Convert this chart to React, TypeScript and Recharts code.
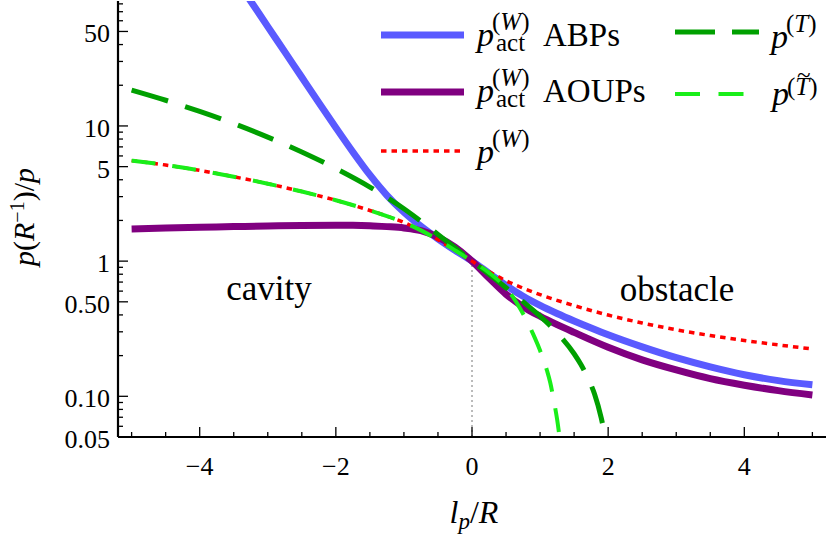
import React from 'react';
import { LineChart, Line, XAxis, YAxis, ReferenceLine, Customized } from 'recharts';

const FONT = 'Liberation Serif, DejaVu Serif, Times New Roman, serif';
const serif = { fontFamily: FONT };
const serifItalic = { fontFamily: FONT, fontStyle: 'italic' as const };

// p_act^(W), active Brownian particles
const abpX = [-3.5, -3.25, -3.0, -2.75, -2.5, -2.25, -2.0, -1.75, -1.5, -1.25, -1.0, -0.75, -0.5, -0.25, 0, 0.25, 0.5, 0.75, 1.0, 1.25, 1.5, 1.75, 2.0, 2.5, 3.0, 3.5, 4.0, 4.5, 5.0];
const abpY = [128.8, 83.7, 54.3, 35.3, 22.9, 14.88, 9.72, 6.42, 4.34, 3.07, 2.305, 1.809, 1.462, 1.202, 1.0, 0.813, 0.661, 0.5495, 0.4705, 0.41, 0.361, 0.32, 0.285, 0.232, 0.193, 0.165, 0.1445, 0.1306, 0.1216];

// p_act^(W), active Ornstein-Uhlenbeck particles
const aoupX = [-5, -4.5, -4, -3.5, -3, -2.5, -2, -1.75, -1.5, -1.25, -1, -0.75, -0.5, -0.25, 0, 0.25, 0.5, 0.75, 1, 1.25, 1.5, 2, 2.5, 3, 3.5, 4, 4.5, 5];
const aoupY = [1.73, 1.76, 1.78, 1.8, 1.82, 1.835, 1.84, 1.84, 1.83, 1.8, 1.76, 1.68, 1.505, 1.267, 1.0, 0.75, 0.569, 0.46, 0.391, 0.339, 0.297, 0.2305, 0.186, 0.1567, 0.135, 0.1208, 0.1102, 0.1023];

// p^(W)
const wX = [-5, -4.5, -4, -3.5, -3, -2.5, -2, -1.5, -1, -0.75, -0.5, -0.25, 0, 0.25, 0.5, 0.75, 1, 1.25, 1.5, 2, 2.5, 3, 3.5, 4, 4.5, 5];
const wY = [5.54, 5.14, 4.69, 4.21, 3.74, 3.27, 2.82, 2.37, 1.93, 1.689, 1.437, 1.202, 1.0, 0.8367, 0.716, 0.631, 0.5655, 0.513, 0.469, 0.399, 0.3485, 0.3107, 0.2817, 0.2589, 0.24, 0.224];

// p^(T)
const tX = [-5, -4.5, -4, -3.5, -3, -2.5, -2, -1.5, -1, -0.75, -0.5, -0.25, 0, 0.25, 0.5, 0.75, 1.0, 1.25, 1.5, 1.6, 1.7, 1.8, 1.9, 2.0];
const tY = [18.41, 15.49, 12.81, 10.41, 8.27, 6.42, 4.84, 3.53, 2.44, 1.972, 1.576, 1.256, 1.0, 0.799, 0.635, 0.501, 0.3914, 0.2951, 0.2065, 0.1718, 0.1371, 0.104, 0.0687, 0.0378];

// p^(T~)
const ttX = [-5, -4.5, -4, -3.5, -3, -2.5, -2, -1.5, -1, -0.75, -0.5, -0.25, 0, 0.25, 0.5, 0.6, 0.7, 0.8, 0.9, 1.0, 1.1, 1.15, 1.2, 1.25, 1.3];
const ttY = [5.54, 5.14, 4.69, 4.21, 3.74, 3.27, 2.82, 2.37, 1.93, 1.689, 1.437, 1.202, 1.0, 0.822, 0.631, 0.543, 0.452, 0.366, 0.287, 0.218, 0.156, 0.126, 0.094, 0.0676, 0.044];

const xTicks = [-5, -4.5, -4, -3.5, -3, -2.5, -2, -1.5, -1, -0.5, 0, 0.5, 1, 1.5, 2, 2.5, 3, 3.5, 4, 4.5, 5];
const xMajor = [-4, -2, 0, 2, 4];
const xMajorLabels = ['\u22124', '\u22122', '0', '2', '4'];

const yTicks = [0.05, 0.06, 0.07, 0.08, 0.09, 0.1, 0.2, 0.3, 0.4, 0.5, 0.6, 0.7, 0.8, 0.9, 1, 2, 3, 4, 5, 6, 7, 8, 9, 10, 20, 30, 40, 50, 60, 70, 80];
const yMajor = [0.05, 0.1, 0.5, 1, 5, 10, 50];
const yMajorLabels = ['0.05', '0.10', '0.50', '1', '5', '10', '50'];

const toPoints = (xs: number[], ys: number[]) => xs.map((x, i) => ({ x, y: ys[i] }));

const COLORS = {
  abp: '#5a5aff',
  aoup: '#800080',
  w: '#ff0000',
  t: '#00a000',
  tt: '#19ee19',
};

const MAJOR_LEN = 10;
const MINOR_LEN = 5;
const TICK_FONT = 26;

const BottomTick = ({ x, y, payload }: any) => {
  const i = xMajor.indexOf(payload.value);
  const len = i >= 0 ? MAJOR_LEN : MINOR_LEN;
  return (
    <g>
      <line x1={x} x2={x} y1={y} y2={y - len} stroke="#000" strokeWidth={1.3} />
      {i >= 0 && (
        <text x={x} y={y + 38} textAnchor="middle" style={serif} fontSize={TICK_FONT} fill="#000">
          {xMajorLabels[i]}
        </text>
      )}
    </g>
  );
};

const TopTick = ({ x, y, payload }: any) => {
  const len = xMajor.indexOf(payload.value) >= 0 ? MAJOR_LEN : MINOR_LEN;
  return <line x1={x} x2={x} y1={y} y2={y + len} stroke="#000" strokeWidth={1.3} />;
};

const LeftTick = ({ x, y, payload }: any) => {
  const i = yMajor.indexOf(payload.value);
  const len = i >= 0 ? MAJOR_LEN : MINOR_LEN;
  return (
    <g>
      <line x1={x} x2={x + len} y1={y} y2={y} stroke="#000" strokeWidth={1.3} />
      {i >= 0 && (
        <text x={x - 8} y={y + 11} textAnchor="end" style={serif} fontSize={TICK_FONT} fill="#000">
          {yMajorLabels[i]}
        </text>
      )}
    </g>
  );
};

const RightTick = ({ x, y, payload }: any) => {
  const len = yMajor.indexOf(payload.value) >= 0 ? MAJOR_LEN : MINOR_LEN;
  return <line x1={x} x2={x - len} y1={y} y2={y} stroke="#000" strokeWidth={1.3} />;
};

const SUP = 25;

// p with a parenthesised superscript and an optional "act" subscript
const Symbol = ({ x, y, sup, sub, tilde, supDy = -16 }: { x: number; y: number; sup: string; sub?: boolean; tilde?: boolean; supDy?: number }) => (
  <g fill="#000">
    <text x={x} y={y} fontSize={34} style={serifItalic}>p</text>
    <text x={x + 15} y={y + supDy} fontSize={SUP} style={serif}>
      (<tspan style={serifItalic}>{sup}</tspan>)
    </text>
    {tilde && (
      <text x={x + 25} y={y + supDy - 12} fontSize={SUP} style={serif}>~</text>
    )}
    {sub && (
      <text x={x + 19} y={y + 5} fontSize={SUP} style={serif}>act</text>
    )}
  </g>
);

const Overlay = () => (
  <g>
    {/* legend, left column */}
    <line x1={381} x2={464} y1={35} y2={35} stroke={COLORS.abp} strokeWidth={7} />
    <Symbol x={477} y={46} sup="W" sub />
    <text x={543} y={46} style={serif} fontSize={33}>ABPs</text>

    <line x1={381} x2={464} y1={92} y2={92} stroke={COLORS.aoup} strokeWidth={7} />
    <Symbol x={477} y={102} sup="W" sub />
    <text x={543} y={102} style={serif} fontSize={33}>AOUPs</text>

    <line x1={381} x2={462} y1={151} y2={151} stroke={COLORS.w} strokeWidth={3.5} strokeDasharray="5.5 5" />
    <Symbol x={477} y={163} sup="W" />

    {/* legend, right column */}
    <line x1={675} x2={759} y1={32} y2={32} stroke={COLORS.t} strokeWidth={5} strokeDasharray="40 17" />
    <Symbol x={771} y={48} sup="T" />

    <line x1={675} x2={744} y1={94} y2={94} stroke={COLORS.tt} strokeWidth={4} strokeDasharray="25 18.5" />
    <Symbol x={772} y={105} sup="T" tilde supDy={-10} />

    {/* region annotations */}
    <text x={269} y={300} textAnchor="middle" style={serif} fontSize={35}>cavity</text>
    <text x={677} y={301} textAnchor="middle" style={serif} fontSize={35}>obstacle</text>

    {/* axis titles */}
    <text x={474} y={523} textAnchor="middle" style={serif} fontSize={32}>
      <tspan style={serifItalic}>l</tspan>
      <tspan style={serifItalic} fontSize={23} dy={6}>p</tspan>
      <tspan dy={-6}>/</tspan>
      <tspan style={serifItalic}>R</tspan>
    </text>
    <text transform="translate(34,217) rotate(-90)" textAnchor="middle" style={serif} fontSize={30}>
      <tspan style={serifItalic}>p</tspan>
      <tspan>(</tspan>
      <tspan style={serifItalic}>R</tspan>
      <tspan fontSize={20} dy={-10}>{'\u22121'}</tspan>
      <tspan dy={10}>)/</tspan>
      <tspan style={serifItalic}>p</tspan>
    </text>
  </g>
);

const axisLine = { stroke: '#000', strokeWidth: 2.2 };

export default function App() {
  return (
    <div style={{ position: 'absolute', left: 0, top: 0, background: '#fff', fontFamily: FONT }}>
      <LineChart width={834} height={538} margin={{ top: 1, right: 8, bottom: 0, left: 0 }}>
        <XAxis
          dataKey="x"
          type="number"
          domain={[-5.2, 5.2]}
          ticks={xTicks}
          interval={0}
          allowDataOverflow
          height={101}
          tickSize={0}
          tickMargin={0}
          tickLine={false}
          axisLine={axisLine}
          tick={<BottomTick />}
        />
        <XAxis
          xAxisId="top"
          orientation="top"
          dataKey="x"
          type="number"
          domain={[-5.2, 5.2]}
          ticks={xTicks}
          interval={0}
          allowDataOverflow
          height={0}
          tickSize={0}
          tickMargin={0}
          tickLine={false}
          axisLine={axisLine}
          tick={<TopTick />}
        />
        <YAxis
          type="number"
          scale="log"
          domain={[0.05, 84]}
          ticks={yTicks}
          interval={0}
          allowDataOverflow
          width={118}
          tickSize={0}
          tickMargin={0}
          tickLine={false}
          axisLine={axisLine}
          tick={<LeftTick />}
        />
        <YAxis
          yAxisId="right"
          orientation="right"
          type="number"
          scale="log"
          domain={[0.05, 84]}
          ticks={yTicks}
          interval={0}
          allowDataOverflow
          width={0}
          tickSize={0}
          tickMargin={0}
          tickLine={false}
          axisLine={axisLine}
          tick={<RightTick />}
        />
        <ReferenceLine
          segment={[{ x: 0, y: 0.05 }, { x: 0, y: 1 }]}
          stroke="#777"
          strokeWidth={1}
          strokeDasharray="2 3"
        />
        <Line data={toPoints(abpX, abpY)} dataKey="y" type="monotone" stroke={COLORS.abp} strokeWidth={7} dot={false} isAnimationActive={false} />
        <Line data={toPoints(aoupX, aoupY)} dataKey="y" type="monotone" stroke={COLORS.aoup} strokeWidth={7} dot={false} isAnimationActive={false} />
        <Line data={toPoints(wX, wY)} dataKey="y" type="monotone" stroke={COLORS.w} strokeWidth={3.5} strokeDasharray="5.5 5" dot={false} isAnimationActive={false} />
        <Line data={toPoints(tX, tY)} dataKey="y" type="monotone" stroke={COLORS.t} strokeWidth={5} strokeDasharray="38 18" dot={false} isAnimationActive={false} />
        <Line data={toPoints(ttX, ttY)} dataKey="y" type="monotone" stroke={COLORS.tt} strokeWidth={4} strokeDasharray="24 17" dot={false} isAnimationActive={false} />
        <Customized component={Overlay} />
      </LineChart>
    </div>
  );
}
